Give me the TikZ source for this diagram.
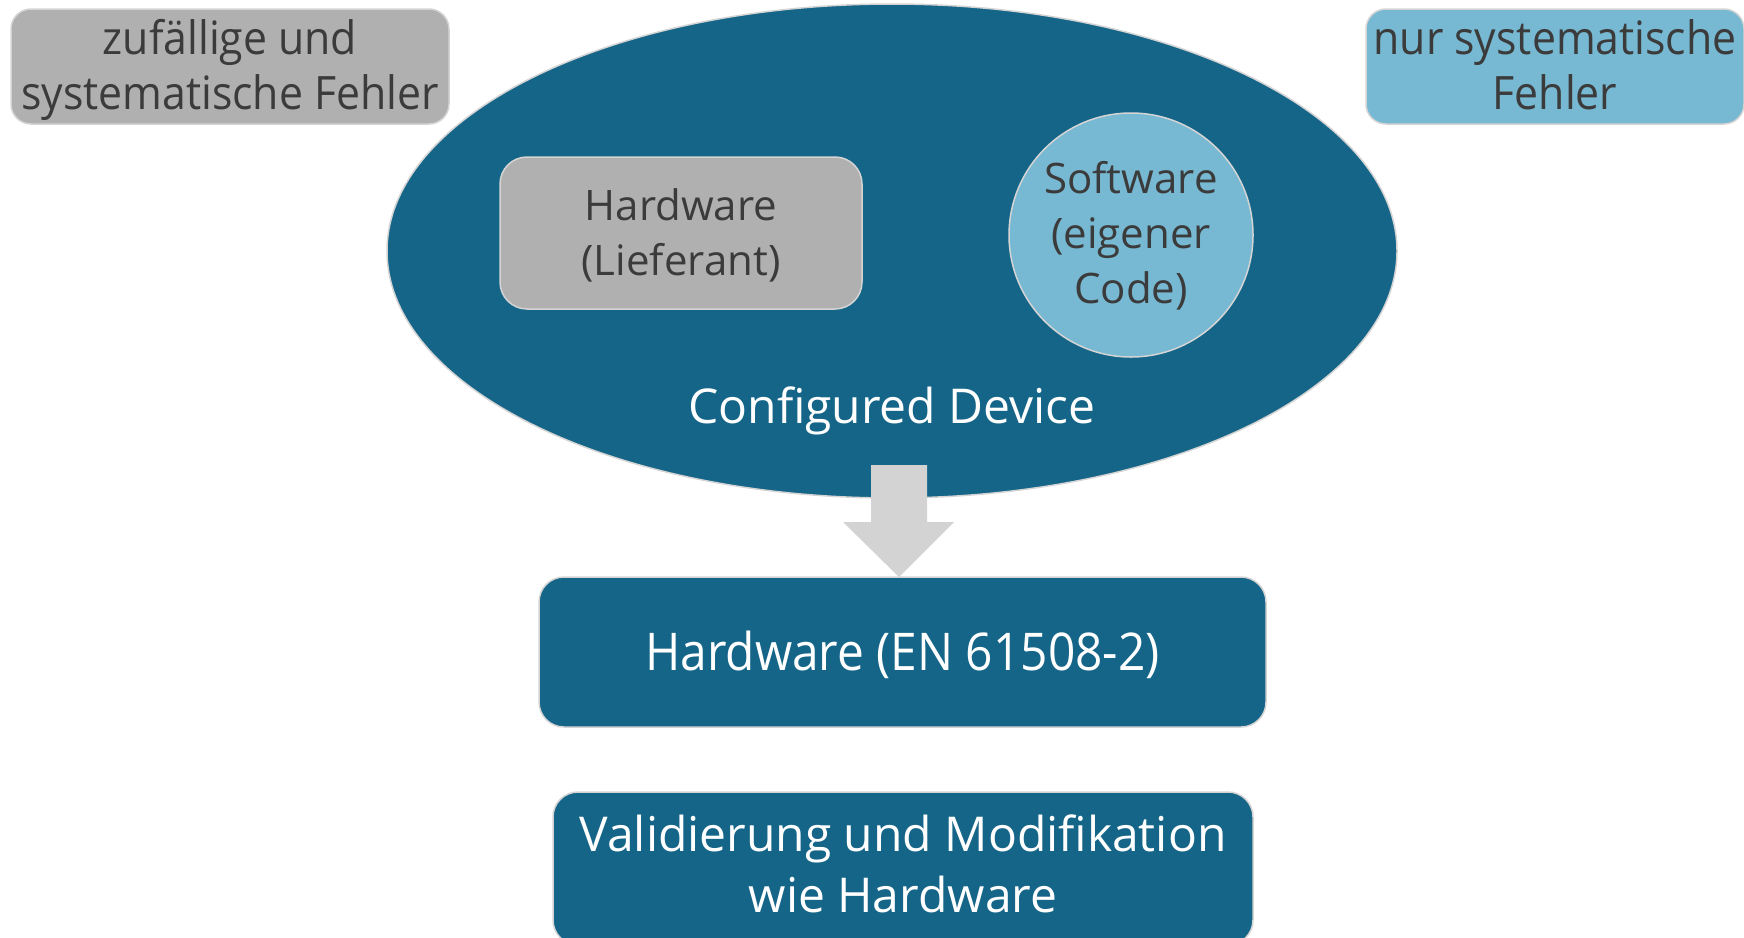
\documentclass[tikz,border=0pt]{standalone}
\usepackage{fontspec}
\setmainfont{Open Sans}
\newfontfamily\condA[FakeStretch=0.93]{Open Sans}
\newfontfamily\condB[FakeStretch=0.92]{Open Sans}
\usetikzlibrary{shapes.geometric,calc}
\definecolor{dblue}{HTML}{156588}
\definecolor{lblue}{HTML}{77B8D2}
\definecolor{gbox}{HTML}{B0B0B0}
\definecolor{txt}{HTML}{3B3B3B}
\definecolor{edgec}{HTML}{D4D4D4}
\definecolor{arrowc}{HTML}{D3D3D3}
\newcommand\upstr[1]{\rule{0pt}{#1pt}}
\newcommand\dnstr[1]{\rule[-#1pt]{0pt}{#1pt}}
\begin{document}
\begin{tikzpicture}[x=1pt,y=-1pt,
  box/.style={rectangle, rounded corners=#1, draw=edgec, line width=1.5pt, align=center, inner sep=0pt},
  box/.default=20pt,
  darktxt/.style={text=txt},
  lighttxt/.style={text=white}]
\useasboundingbox (0,0) rectangle (1744,937);
% ellipse
\node[ellipse, fill=dblue, draw=edgec, line width=1.5pt, minimum width=1010, minimum height=494, inner sep=0pt] (dev) at (892,251) {};
% top boxes
\node[box, fill=gbox, darktxt, minimum width=438, minimum height=115, font=\condA\fontsize{46}{55}\selectfont] (zuf) at (230,66.5) {\upstr{42}zufällige und\\systematische Fehler\dnstr{12}};
\node[box, fill=lblue, darktxt, minimum width=378, minimum height=115, font=\condA\fontsize{46}{55}\selectfont] (nur) at (1555,66.5) {\upstr{42}nur systematische\\Fehler\dnstr{12}};
% inside ellipse
\node[box=27pt, fill=gbox, darktxt, minimum width=362, minimum height=152, font=\fontsize{42}{55}\selectfont] (hw) at (681,233) {\upstr{40}Hardware\\(Lieferant)\dnstr{11}};
\node[circle, fill=lblue, draw=edgec, line width=1.5pt, minimum size=244, inner sep=0pt, align=center, darktxt, font=\fontsize{42}{55}\selectfont] (sw) at (1131,235) {\upstr{38}Software\\(eigener\\Code)\dnstr{12}};
\node[anchor=base, lighttxt, inner sep=0pt, font=\fontsize{48}{58}\selectfont] (cd) at (892,423) {Configured Device};
% block arrow
\coordinate (atop) at (899,465);
\fill[arrowc] ($(atop)+(-28,0)$) -- ($(atop)+(28,0)$) -- ($(atop)+(28,57)$) -- ($(atop)+(55,57)$) -- ($(atop)+(0,112)$) -- ($(atop)+(-56,57)$) -- ($(atop)+(-28,57)$) -- cycle;
% lower boxes
\node[box=25pt, fill=dblue, lighttxt, minimum width=727, minimum height=150, font=\condB\fontsize{52}{62}\selectfont] (en) at (902.5,652) {\upstr{48}Hardware (EN 61508-2)\dnstr{12}};
\node[box=25pt, fill=dblue, lighttxt, minimum width=700, minimum height=153, font=\fontsize{48}{61}\selectfont] (val) at (903,868.5) {\upstr{38}Validierung und Modifikation\\wie Hardware\dnstr{12}};
\end{tikzpicture}
\end{document}
